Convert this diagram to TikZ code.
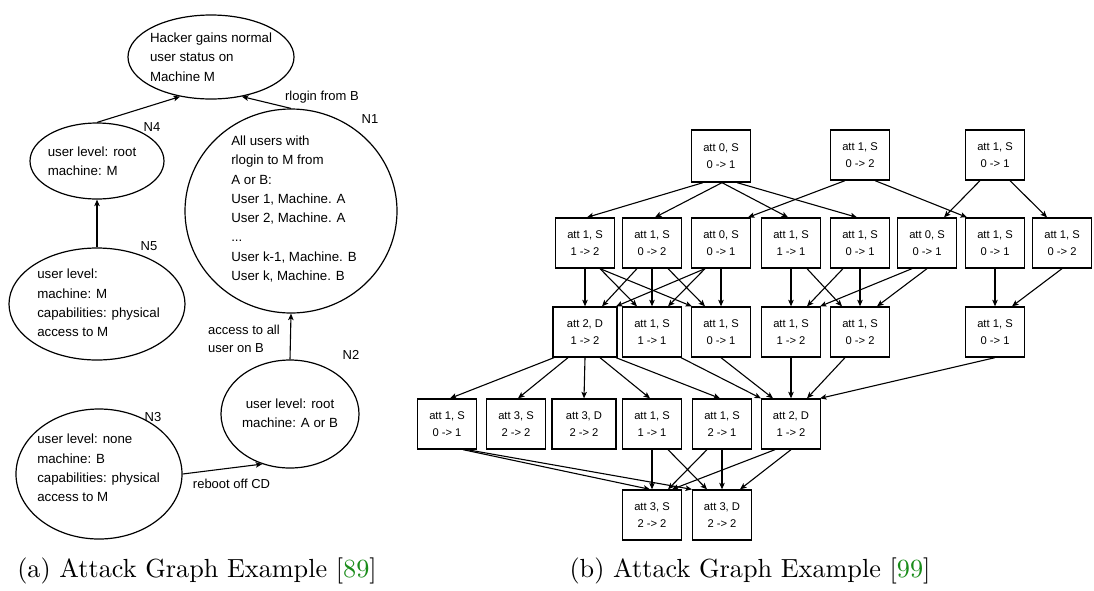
\documentclass[tikz,border=0pt]{standalone}
\usepackage{fontspec}
\usepackage{graphicx}
\newfontfamily\arial{Liberation Sans}
\usetikzlibrary{shapes.geometric,arrows.meta}
\definecolor{citegreen}{rgb}{0.1,0.55,0.1}
\begin{document}
\begin{tikzpicture}[x=1pt,y=-1pt,
  oval/.style={draw, ellipse, line width=1.2pt, inner sep=0pt},
  ovtxt/.style={font=\arial\fontsize{13.3}{19.3}\selectfont, align=left, inner sep=0pt},
  lbl/.style={font=\arial\fontsize{13}{18}\selectfont, inner sep=0pt, align=left},
  arr/.style={-{Stealth[length=6.5pt,width=5.5pt,inset=1.5pt]}, line width=1.1pt},
  st/.style={draw, line width=1.3pt, minimum width=59pt, minimum height=50pt,
    inner sep=0pt, align=center, font=\arial\fontsize{11.2}{17.7}\selectfont},
  wide/.style={minimum width=64pt},
  subcap/.style={font=\fontsize{10}{12}\selectfont, inner sep=0pt}
]
\useasboundingbox (0,0) rectangle (1094,590);

% ---------- (a) attack graph with state ellipses ----------
\node[oval, minimum width=166pt, minimum height=84pt]  (goal) at (211,57)  {};
\node[oval, minimum width=134pt, minimum height=76pt]  (n4)   at (97,161)  {};
\node[oval, minimum width=212pt, minimum height=204pt] (n1)   at (291,211) {};
\node[oval, minimum width=176pt, minimum height=112pt] (n5)   at (97,304)  {};
\node[oval, minimum width=138pt, minimum height=108pt] (n2)   at (290,414) {};
\node[oval, minimum width=166pt, minimum height=130pt] (n3)   at (99,474)  {};

\node[ovtxt] (goalt) at (211,57) {Hacker gains normal\\user status on\\Machine M};
\node[ovtxt] (n4t) at (92,161) {user level: root\\machine: M};
\node[ovtxt] (n1t) at (294,209) {All users with\\rlogin to M from\\A or B:\\User 1, Machine. A\\User 2, Machine. A\\...\\User k-1, Machine. B\\User k, Machine. B};
\node[ovtxt] (n5t) at (98.5,303) {user level:\\machine: M\\capabilities: physical\\access to M};
\node[ovtxt, align=center] (n2t) at (290,413.5) {user level: root\\machine: A or B};
\node[ovtxt] (n3t) at (98.5,468) {user level: none\\machine: B\\capabilities: physical\\access to M};

\node[lbl] (ln1) at (370,119) {N1};
\node[lbl] (ln4) at (152,127) {N4};
\node[lbl] (ln5) at (149,246) {N5};
\node[lbl] (ln2) at (351,355) {N2};
\node[lbl] (ln3) at (153,417) {N3};

\draw[arr] (n4.north) -- (goal.232);
\draw[arr] (n1.north) -- (goal.308);
\draw[arr] (n5.north) -- (n4.south);
\draw[arr] (n2.north) -- (n1.south);
\draw[arr] (n3.east) -- (n2.241);

\node[lbl] (e1) at (322,97) {rlogin from B};
\node[lbl] (e2) at (244,339) {access to all\\user on B};
\node[lbl] (e3) at (231.5,484) {reboot off CD};

\node[subcap] (capa) at (197,571) {\scalebox{2.62}{(a) Attack Graph Example [\textcolor{citegreen}{89}]}};

% ---------- (b) attack graph with state boxes ----------
% row 1
\node[st, minimum height=52pt] (t1) at (721,156) {att 0, S\\0 -> 1};
\node[st] (t2) at (860,155) {att 1, S\\0 -> 2};
\node[st] (t3) at (995,155) {att 1, S\\0 -> 1};
% row 2
\node[st] (ra) at (585,243)  {att 1, S\\1 -> 2};
\node[st] (rb) at (652,243)  {att 1, S\\0 -> 2};
\node[st] (rc) at (721,243)  {att 0, S\\0 -> 1};
\node[st] (rd) at (791,243)  {att 1, S\\1 -> 1};
\node[st] (re) at (860,243)  {att 1, S\\0 -> 1};
\node[st] (rf) at (927,243)  {att 0, S\\0 -> 1};
\node[st] (rg) at (995,243)  {att 1, S\\0 -> 1};
\node[st] (rh) at (1062,243) {att 1, S\\0 -> 2};
% row 3
\node[st, wide] (sa) at (585,332) {att 2, D\\1 -> 2};
\node[st] (sb) at (652,332) {att 1, S\\1 -> 1};
\node[st] (sc) at (721,332) {att 1, S\\0 -> 1};
\node[st] (sd) at (791,332) {att 1, S\\1 -> 2};
\node[st] (se) at (860,332) {att 1, S\\0 -> 2};
\node[st] (sf) at (995,332) {att 1, S\\0 -> 1};
% row 4
\node[st] (ua) at (447,424) {att 1, S\\0 -> 1};
\node[st] (ub) at (516,424) {att 3, S\\2 -> 2};
\node[st, wide] (uc) at (584,424) {att 3, D\\2 -> 2};
\node[st] (ud) at (652,424) {att 1, S\\1 -> 1};
\node[st] (ue) at (722,424) {att 1, S\\2 -> 1};
\node[st] (uf) at (791,424) {att 2, D\\1 -> 2};
% row 5
\node[st] (va) at (652,515) {att 3, S\\2 -> 2};
\node[st] (vb) at (722,515) {att 3, D\\2 -> 2};

% row 1 -> row 2
\draw[arr] ([xshift=-18pt]t1.south) -- ([xshift=2pt]ra.north);
\draw[arr] ([xshift=1pt]t1.south)   -- ([xshift=3pt]rb.north);
\draw[arr] ([xshift=1pt]t1.south)   -- ([xshift=-3pt]rd.north);
\draw[arr] ([xshift=16pt]t1.south)  -- ([xshift=-3pt]re.north);
\draw[arr] ([xshift=-15pt]t2.south) -- ([xshift=27pt]rc.north);
\draw[arr] ([xshift=15pt]t2.south)  -- ([xshift=-28pt]rg.north);
\draw[arr] ([xshift=-15pt]t3.south) -- ([xshift=17pt]rf.north);
\draw[arr] ([xshift=15pt]t3.south)  -- ([xshift=-15pt]rh.north);

% row 2 -> row 3
\draw[arr] (ra.south) -- (sa.north);
\draw[arr] ([xshift=15pt]ra.south)  -- ([xshift=-15pt]sb.north);
\draw[arr] ([xshift=15pt]ra.south)  -- ([xshift=-29pt]sc.north);
\draw[arr] ([xshift=-15pt]rb.south) -- ([xshift=17pt]sa.north);
\draw[arr] (rb.south) -- (sb.north);
\draw[arr] ([xshift=16pt]rb.south)  -- ([xshift=-16pt]sc.north);
\draw[arr] ([xshift=-16pt]rc.south) -- ([xshift=31pt]sa.north);
\draw[arr] ([xshift=-16pt]rc.south) -- ([xshift=16pt]sb.north);
\draw[arr] (rc.south) -- (sc.north);
\draw[arr] (rd.south) -- (sd.north);
\draw[arr] ([xshift=16pt]rd.south)  -- ([xshift=-18pt]se.north);
\draw[arr] ([xshift=-17pt]re.south) -- ([xshift=16pt]sd.north);
\draw[arr] (re.south) -- (se.north);
\draw[arr] ([xshift=-15pt]rf.south) -- ([xshift=29pt]sd.north);
\draw[arr] (rf.south) -- ([xshift=17pt]se.north);
\draw[arr] (rg.south) -- (sf.north);
\draw[arr] (rh.south) -- ([xshift=17pt]sf.north);

% row 3 -> row 4
\draw[arr] ([xshift=-31pt]sa.south) -- ([xshift=3pt]ua.north);
\draw[arr] ([xshift=-17pt]sa.south) -- ([xshift=2pt]ub.north);
\draw[arr] (sa.south) -- (uc.north);
\draw[arr] ([xshift=15pt]sa.south)  -- ([xshift=-2pt]ud.north);
\draw[arr] ([xshift=31pt]sa.south)  -- ([xshift=-2pt]ue.north);
\draw[arr] ([xshift=29pt]sb.south)  -- ([xshift=-30pt]uf.north);
\draw[arr] (sc.south) -- ([xshift=-18pt]uf.north);
\draw[arr] (sd.south) -- (uf.north);
\draw[arr] ([xshift=-15pt]se.south) -- ([xshift=16pt]uf.north);
\draw[arr] (sf.south) -- ([xshift=29pt]uf.north);

% row 4 -> row 5
\draw[arr] ([xshift=16pt]ua.south)  -- ([xshift=-2pt]va.north);
\draw[arr] ([xshift=20pt]ua.south)  -- ([xshift=-30pt]vb.north);
\draw[arr] (ud.south) -- (va.north);
\draw[arr] ([xshift=16pt]ud.south)  -- ([xshift=-15pt]vb.north);
\draw[arr] ([xshift=-15pt]ue.south) -- ([xshift=16pt]va.north);
\draw[arr] (ue.south) -- (vb.north);
\draw[arr] ([xshift=-16pt]uf.south) -- ([xshift=20pt]va.north);
\draw[arr] (uf.south) -- ([xshift=18pt]vb.north);

\node[subcap] (capb) at (750,571) {\scalebox{2.62}{(b) Attack Graph Example [\textcolor{citegreen}{99}]}};
\end{tikzpicture}
\end{document}
